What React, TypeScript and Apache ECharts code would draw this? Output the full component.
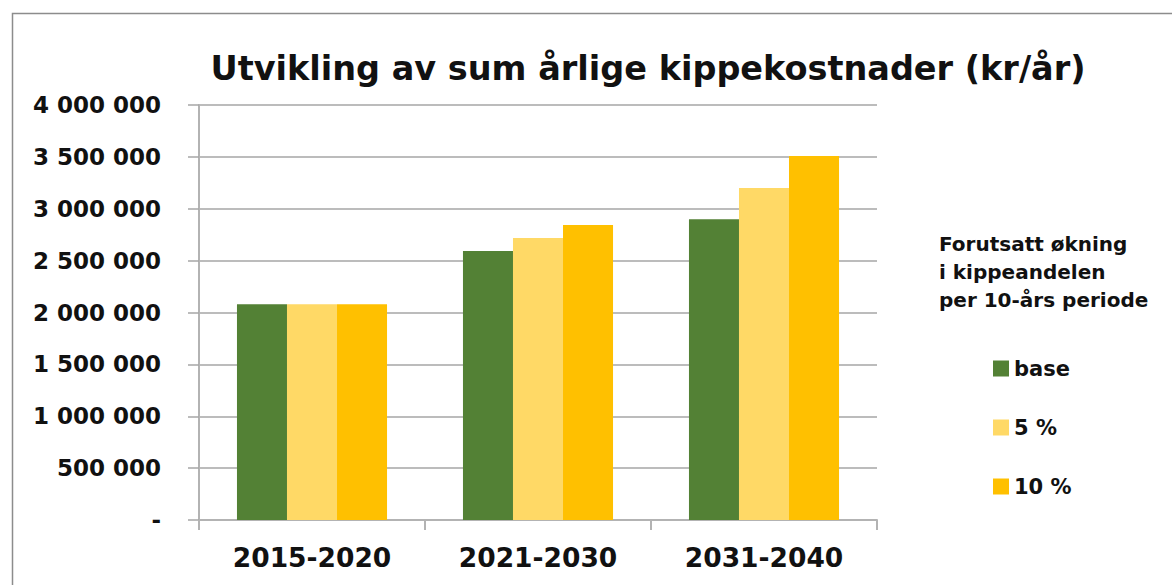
import React, { useEffect, useRef } from "react";
import * as echarts from "echarts";

const categories = ["2015-2020", "2021-2030", "2031-2040"];
const seriesNames = ["base", "5 %", "10 %"];
const baseValues = [2080000, 2593000, 2900000];
const fivePctValues = [2080000, 2718000, 3200000];
const tenPctValues = [2080000, 2843000, 3508000];
const colors = ["#538135", "#FFD966", "#FFC000"];
const titleText = "Utvikling av sum årlige kippekostnader (kr/år)";
const legendTitle = ["Forutsatt økning", "i kippeandelen", "per 10-års periode"];

const FONT = "'DejaVu Sans', sans-serif";

function fmt(v: number): string {
  if (v === 0) return "-";
  return String(Math.round(v)).replace(/\B(?=(\d{3})+(?!\d))/g, " ");
}

export default function App() {
  const ref = useRef<HTMLDivElement>(null);
  useEffect(() => {
    if (!ref.current) return;
    const chart = echarts.init(ref.current, null, { renderer: "svg" });
    const allValues = [baseValues, fivePctValues, tenPctValues];
    chart.setOption({
      animation: false,
      backgroundColor: "#ffffff",
      title: {
        text: titleText,
        left: 643,
        textAlign: "center",
        top: 46,
        textStyle: { fontFamily: FONT, fontWeight: "bold", fontSize: 33.5, color: "#111" },
      },
      grid: { left: 199, right: 295, top: 105, bottom: 65, containLabel: false },
      xAxis: {
        type: "category",
        data: categories,
        axisLine: { lineStyle: { color: "#b3b3b3", width: 2 } },
        axisTick: { show: true, length: 10, lineStyle: { color: "#b3b3b3", width: 2 } },
        axisLabel: { fontFamily: FONT, fontWeight: "bold", fontSize: 26.5, color: "#111", margin: 24 },
        splitLine: { show: false },
      },
      yAxis: {
        type: "value",
        min: 0,
        max: 4000000,
        interval: 500000,
        axisLine: { show: true, lineStyle: { color: "#b3b3b3", width: 2 } },
        axisTick: { show: true, length: 11, lineStyle: { color: "#a6a6a6", width: 1.5 } },
        axisLabel: {
          fontFamily: FONT,
          fontWeight: "bold",
          fontSize: 23,
          color: "#111",
          margin: 38,
          formatter: (v: number) => fmt(v),
        },
        splitLine: { show: true, lineStyle: { color: "#a6a6a6", width: 1.5 } },
      },
      legend: {
        orient: "vertical",
        left: 988,
        top: 353,
        itemWidth: 16,
        itemHeight: 16,
        itemGap: 38,
        icon: "rect",
        data: seriesNames,
        textStyle: { fontFamily: FONT, fontWeight: "bold", fontSize: 21, color: "#111", padding: [0, 0, 0, 0] },
      },
      graphic: [
        {
          type: "rect",
          left: 10,
          top: 11,
          shape: { width: 1200, height: 600 },
          style: { fill: "none", stroke: "#8c8c8c", lineWidth: 1.5 },
          silent: true,
          z: -1,
        },
        {
          type: "text",
          left: 939,
          top: 230,
          style: {
            text: legendTitle.join("\n"),
            fontFamily: FONT,
            fontWeight: "bold",
            fontSize: 20,
            lineHeight: 28,
            fill: "#111",
          },
        },
      ],
      series: seriesNames.map((name, i) => ({
        name,
        type: "bar",
        data: allValues[i],
        barGap: "0%",
        barCategoryGap: "33.6%",
        itemStyle: { color: colors[i] },
      })),
    });
    return () => chart.dispose();
  }, []);
  return (
    <div
      ref={ref}
      style={{ position: "fixed", left: 0, top: 0, width: 1172, height: 585 }}
    />
  );
}
